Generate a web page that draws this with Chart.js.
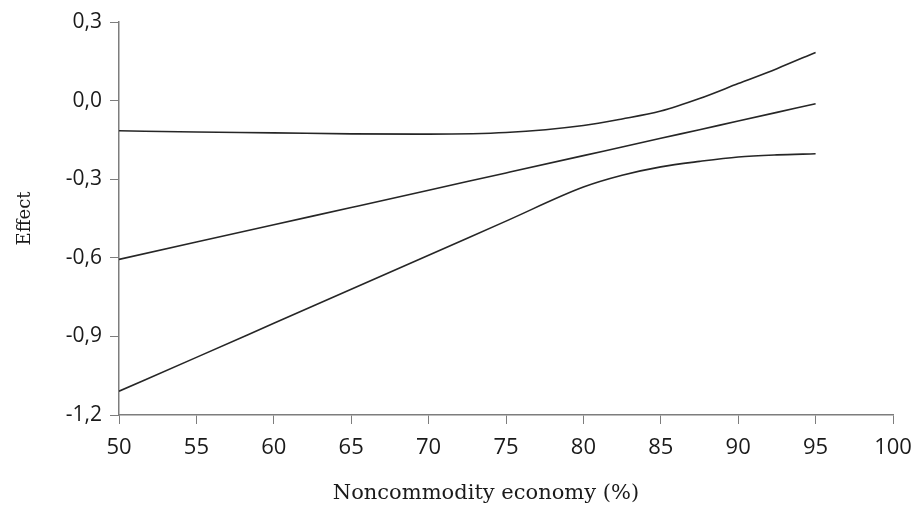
<!DOCTYPE html>
<html>
<head>
<meta charset="utf-8">
<script src="https://cdn.jsdelivr.net/npm/chart.js@4/dist/chart.umd.min.js"></script>
<style>
  html, body { margin: 0; padding: 0; background: #fff; }
  #wrap { width: 913px; height: 506px; position: relative; }
</style>
</head>
<body>
<div id="wrap"><canvas id="chart"></canvas></div>
<script>
// values
const xValues = [50, 55, 60, 65, 70, 75, 80, 82.5, 85, 87.5, 90, 92.5, 95];
const upperBand = [-0.115, -0.12, -0.123, -0.127, -0.128, -0.122, -0.095, -0.07, -0.04, 0.008, 0.065, 0.122, 0.184];
const effect = [-0.606, -0.54, -0.474, -0.408, -0.342, -0.276, -0.21, -0.177, -0.144, -0.111, -0.078, -0.045, -0.012];
const lowerBand = [-1.109, -0.98, -0.85, -0.72, -0.59, -0.46, -0.33, -0.285, -0.253, -0.232, -0.215, -0.207, -0.203];

const xTicks = [50, 55, 60, 65, 70, 75, 80, 85, 90, 95, 100];
const yTicks = [-1.2, -0.9, -0.6, -0.3, 0.0, 0.3];

const toPoints = (ys) => xValues.map((x, i) => ({ x: x, y: ys[i] }));

const lineStyle = {
  borderColor: "#262626",
  borderWidth: 1.6,
  pointRadius: 0,
  fill: false,
  cubicInterpolationMode: "monotone",
};

const axisColor = "#7d7d7d";
const textColor = "#1a1a1a";

// title sits a bit left of the plot centre in the original
const xTitle = "Noncommodity economy (%)      ";

new Chart(document.getElementById("chart").getContext("2d"), {
  type: "line",
  data: {
    datasets: [
      { label: "Upper", data: toPoints(upperBand), ...lineStyle },
      { label: "Effect", data: toPoints(effect), ...lineStyle },
      { label: "Lower", data: toPoints(lowerBand), ...lineStyle },
    ],
  },
  options: {
    responsive: true,
    maintainAspectRatio: false,
    animation: false,
    layout: { padding: { top: 22, right: 20, left: 0, bottom: 0 } },
    plugins: { legend: { display: false }, tooltip: { enabled: false } },
    scales: {
      x: {
        type: "linear",
        min: 50,
        max: 100,
        afterBuildTicks: (axis) => { axis.ticks = xTicks.map((v) => ({ value: v })); },
        afterFit: (axis) => { axis.height = 91; axis.paddingRight = 0; },
        ticks: {
          color: textColor,
          font: { family: "'Open Sans'", size: 22 },
          padding: 11,
          maxRotation: 0,
        },
        grid: {
          drawOnChartArea: false,
          drawTicks: true,
          tickLength: 9,
          color: axisColor,
        },
        border: { color: axisColor, width: 1.5 },
        title: {
          display: true,
          text: xTitle,
          color: textColor,
          font: { family: "'DejaVu Serif'", size: 21 },
          padding: { top: 0, bottom: 0 },
        },
      },
      y: {
        type: "linear",
        min: -1.2,
        max: 0.3,
        afterBuildTicks: (axis) => { axis.ticks = yTicks.map((v) => ({ value: v })); },
        afterFit: (axis) => { axis.width = 119; },
        ticks: {
          color: textColor,
          font: { family: "'Open Sans'", size: 21 },
          padding: 8,
          callback: (v) => v.toFixed(1).replace(".", ","),
        },
        grid: {
          drawOnChartArea: false,
          drawTicks: true,
          tickLength: 9,
          color: axisColor,
        },
        border: { color: axisColor, width: 1.5 },
        title: {
          display: true,
          text: "Effect",
          color: textColor,
          font: { family: "'DejaVu Serif'", size: 18 },
          padding: { top: 15, bottom: 0 },
        },
      },
    },
  },
});
</script>
</body>
</html>
